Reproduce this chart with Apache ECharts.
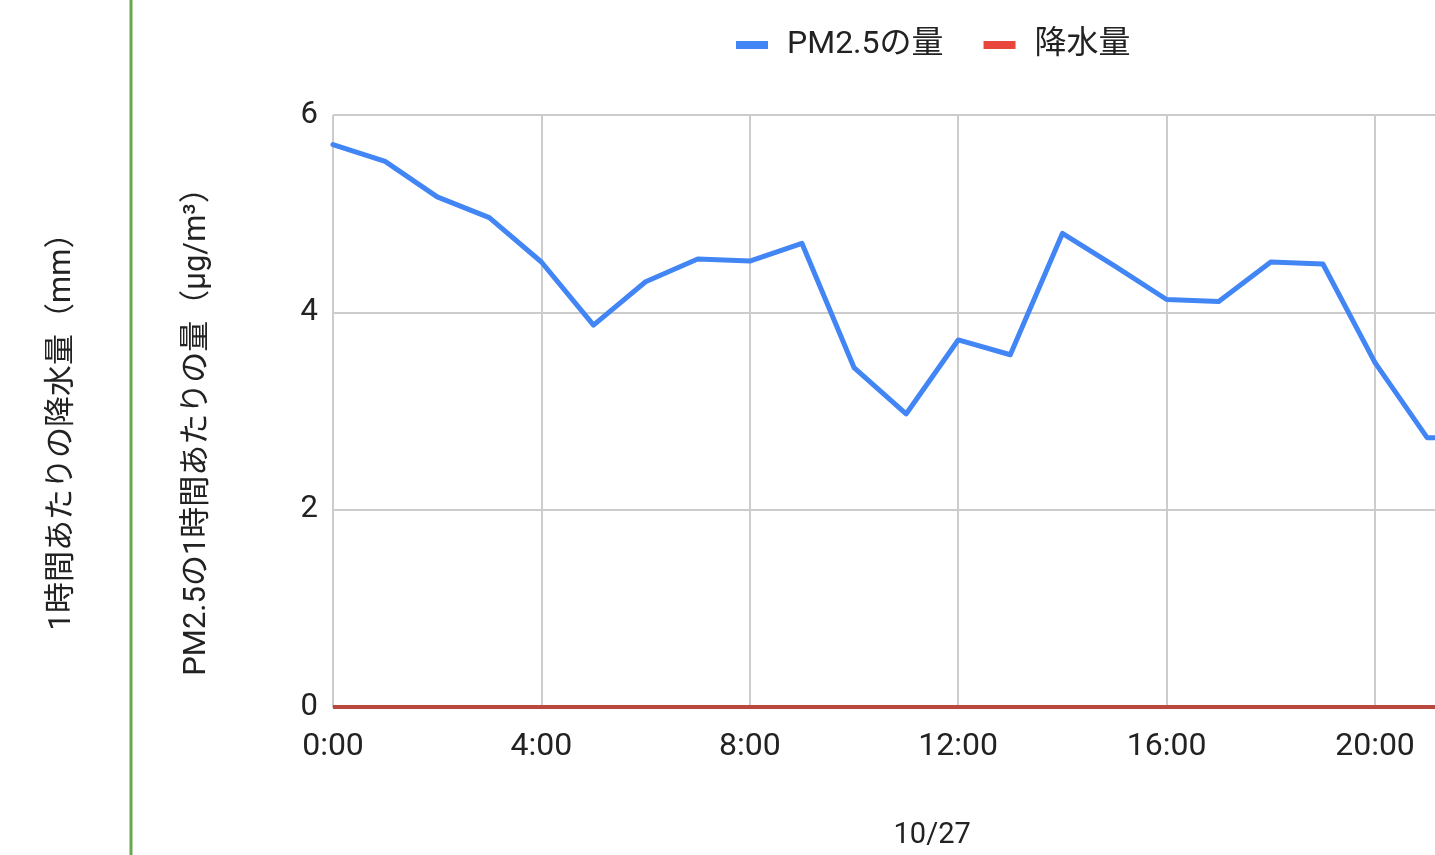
<!DOCTYPE html>
<html>
<head>
<meta charset="utf-8">
<script src="https://cdn.jsdelivr.net/npm/echarts@6/dist/echarts.min.js"></script>
<style>
  html, body { margin: 0; padding: 0; background: #ffffff; }
  #chart { width: 1435px; height: 855px; }
</style>
</head>
<body>
<div id="chart"></div>
<script>
// Hourly readings for 10/27
const hours = ['0:00','1:00','2:00','3:00','4:00','5:00','6:00','7:00','8:00','9:00','10:00','11:00',
               '12:00','13:00','14:00','15:00','16:00','17:00','18:00','19:00','20:00','21:00','22:00','23:00'];
// PM2.5 (µg/m³ per hour)
const pm25 = [5.70, 5.53, 5.17, 4.96, 4.51, 3.87, 4.31, 4.54, 4.52, 4.70, 3.44, 2.97,
              3.72, 3.57, 4.80, 4.47, 4.13, 4.11, 4.51, 4.49, 3.49, 2.73, 2.72, null];
// Precipitation (mm per hour)
const rain = [0, 0, 0, 0, 0, 0, 0, 0, 0, 0, 0, 0,
              0, 0, 0, 0, 0, 0, 0, 0, 0, 0, 0, 0];
const yTicks = [0, 2, 4, 6];
const dateLabel = '10/27';
const seriesNames = ['PM2.5の量', '降水量'];
const pmAxisTitle = 'PM2.5の1時間あたりの量（μg/m³）';
const rainAxisTitle = '1時間あたりの降水量（mm）';

const FONT = "Roboto, 'Noto Sans CJK JP', sans-serif";
const TEXT = '#222222';

const chart = echarts.init(document.getElementById('chart'), null, { renderer: 'canvas' });

const option = {
  backgroundColor: '#ffffff',
  animation: false,
  textStyle: { fontFamily: FONT, color: TEXT },
  legend: {
    left: 731,
    top: 24,
    icon: 'rect',
    itemWidth: 32,
    itemHeight: 8,
    itemGap: 40,
    textStyle: { fontFamily: FONT, fontSize: 32, color: TEXT, padding: [0, 0, 0, 14] },
    data: seriesNames
  },
  grid: {
    left: 333,
    top: 115,
    width: 52.1 * (hours.length - 1),
    height: 592,
    containLabel: false,
    outerBoundsMode: 'none'
  },
  xAxis: {
    type: 'category',
    data: hours,
    boundaryGap: false,
    name: dateLabel,
    nameLocation: 'middle',
    nameGap: 114,
    nameTextStyle: { fontFamily: FONT, fontSize: 29, color: TEXT },
    axisLine: { show: true, lineStyle: { color: '#bbbbbb', width: 2 } },
    axisTick: { show: false },
    axisLabel: { interval: 3, fontFamily: FONT, fontSize: 32, color: TEXT, margin: 24 },
    splitLine: { show: true, interval: 3, lineStyle: { color: '#cccccc', width: 2 } }
  },
  yAxis: [
    {
      type: 'value',
      min: yTicks[0],
      max: yTicks[yTicks.length - 1],
      interval: yTicks[1] - yTicks[0],
      position: 'left',
      axisLine: { show: false },
      axisTick: { show: false },
      axisLabel: { fontFamily: FONT, fontSize: 31, color: TEXT, margin: 15 },
      splitLine: { show: true, lineStyle: { color: '#cccccc', width: 2 } }
    },
    {
      type: 'value',
      min: 0,
      max: 1,
      show: false,
      splitLine: { show: false }
    }
  ],
  series: [
    {
      name: seriesNames[0],
      type: 'line',
      data: pm25,
      yAxisIndex: 0,
      symbol: 'none',
      color: '#4285f4',
      lineStyle: { color: '#4285f4', width: 5, join: 'round', cap: 'round' },
      z: 3
    },
    {
      name: seriesNames[1],
      type: 'line',
      data: rain,
      yAxisIndex: 1,
      symbol: 'none',
      color: '#e8453c',
      lineStyle: { color: '#b9493f', width: 4 },
      z: 2
    }
  ],
  graphic: [
    {
      type: 'rect',
      shape: { x: 129.5, y: 0, width: 3, height: 855 },
      style: { fill: '#6aa84f' },
      silent: true
    },
    {
      type: 'text',
      x: 197,
      y: 424,
      rotation: Math.PI / 2,
      style: {
        text: pmAxisTitle,
        fontFamily: FONT,
        fontSize: 31,
        fill: TEXT,
        align: 'center',
        verticalAlign: 'middle'
      }
    },
    {
      type: 'text',
      x: 62,
      y: 424,
      rotation: Math.PI / 2,
      style: {
        text: rainAxisTitle,
        fontFamily: FONT,
        fontSize: 31,
        fill: TEXT,
        align: 'center',
        verticalAlign: 'middle'
      }
    }
  ]
};

chart.setOption(option);
</script>
</body>
</html>
